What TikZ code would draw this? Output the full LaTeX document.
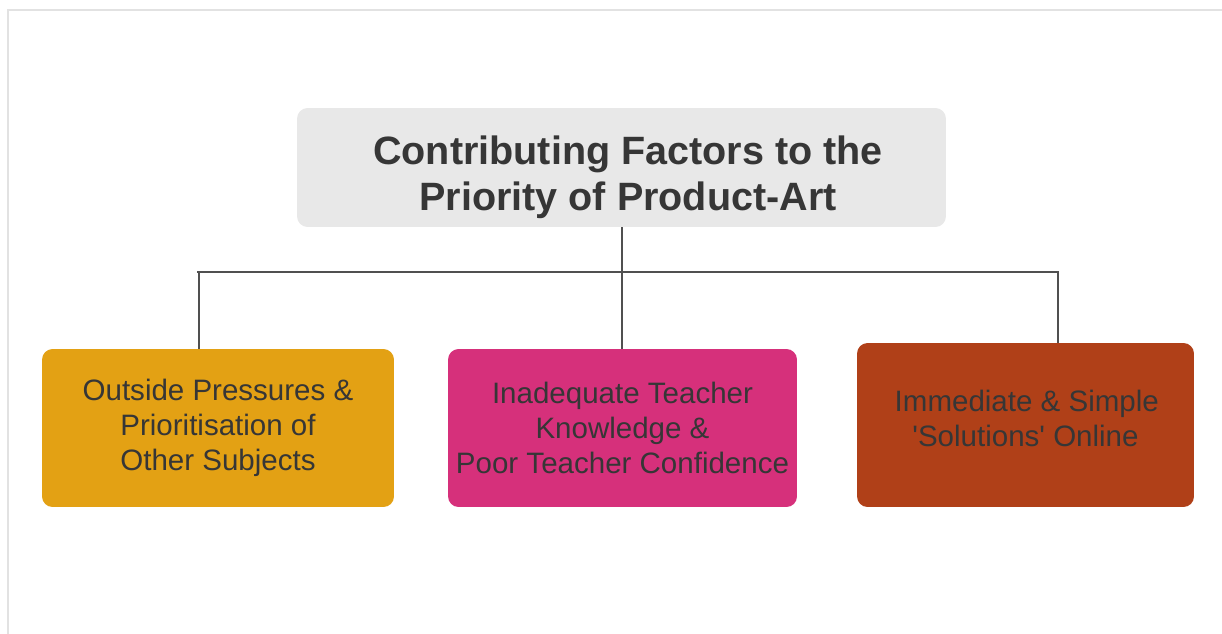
\documentclass[tikz,border=0pt]{standalone}
\usepackage{fontspec}
\setmainfont{Liberation Sans}
\usepackage{xcolor}
\usepackage{tikz}

\definecolor{titlegray}{HTML}{E8E8E8}
\definecolor{textgray}{HTML}{363636}
\definecolor{linegray}{HTML}{505050}
\definecolor{framegray}{HTML}{E2E2E2}
\definecolor{factorA}{HTML}{E3A114}
\definecolor{factorB}{HTML}{D6307B}
\definecolor{factorC}{HTML}{B04018}

\begin{document}
\begin{tikzpicture}
  [x=0.02cm,y=-0.02cm,
   every node/.style={rounded corners=6pt,align=center,text=textgray,inner sep=0pt},
   factor/.style={minimum height=3.16cm,font=\fontsize{16.8}{20.1}\selectfont},
   link/.style={draw=linegray,line width=1.1pt}]
    \useasboundingbox (0,0) rectangle (1222,633);
    \draw[framegray,line width=1.2pt] (8,650) -- (8,10) -- (1240,10);

    % heading
    \node (title) at (621.5,167.5) [fill=titlegray,minimum width=12.98cm,minimum height=2.38cm,
      font=\fontsize{22.5}{26.4}\selectfont\bfseries]
      {\rule{0pt}{0.97cm}\hspace*{0.26cm}Contributing Factors to the\\\hspace*{0.26cm}Priority of Product-Art};

    % the three factors
    \node (outside) at (218,428) [factor,fill=factorA,minimum width=7.04cm]
      {Outside Pressures \&\\Prioritisation of\\Other Subjects};
    \node (teacher) at (622.5,428) [factor,fill=factorB,minimum width=6.98cm]
      {Inadequate Teacher\\Knowledge \&\\Poor Teacher Confidence};
    \node (online) at (1025.5,425) [factor,fill=factorC,minimum width=6.74cm,minimum height=3.28cm,text depth=0.27cm]
      {\hspace*{0.05cm}Immediate \& Simple\\\textquotesingle Solutions\textquotesingle{} Online};

    \coordinate (bus)  at (622,272);
    \coordinate (busL) at (199,272);
    \coordinate (busR) at (1058,272);

    \draw[link] (title.south -| bus) -- (bus);
    \draw[link] ([xshift=-0.04cm]busL) -- ([xshift=0.02cm]busR);
    \draw[link] (busL) -- (busL |- outside.north);
    \draw[link] (bus) -- (bus |- teacher.north);
    \draw[link] (busR) -- (busR |- online.north);
\end{tikzpicture}
\end{document}
